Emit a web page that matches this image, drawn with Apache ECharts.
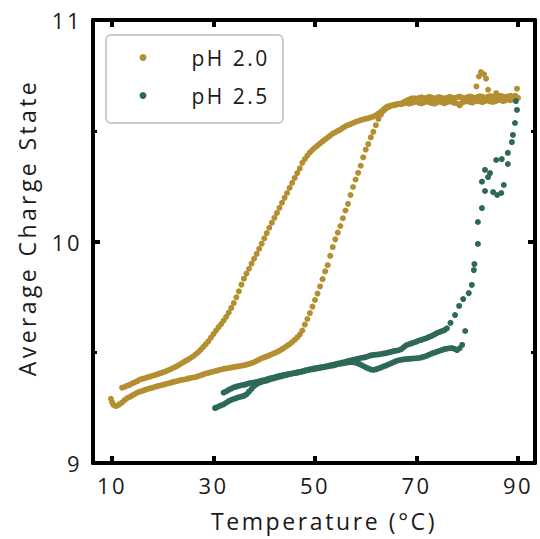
<!DOCTYPE html>
<html>
<head>
<meta charset="utf-8">
<script src="https://cdn.jsdelivr.net/npm/echarts@6/dist/echarts.min.js"></script>
<style>
  html, body { margin: 0; padding: 0; background: #fff; }
  #chart { width: 540px; height: 539px; }
  #chart text { letter-spacing: 2.5px; }
</style>
</head>
<body>
<div id="chart"></div>
<script>
// pH 2.0, lower branch (transition near 55 C)
var ph20Heat = [
  [9.8,9.290],[10.0,9.275],[10.3,9.262],[10.8,9.257],[11.3,9.262],[11.5,9.266],[12.0,9.274],[12.5,9.284],
  [13.0,9.293],[13.5,9.298],[14.0,9.305],[14.5,9.311],[15.0,9.318],[15.5,9.322],[16.0,9.326],[16.5,9.330],
  [17.0,9.334],[17.5,9.337],[18.0,9.340],[18.5,9.344],[19.0,9.347],[19.5,9.350],[20.0,9.353],[20.5,9.356],
  [21.0,9.359],[21.5,9.362],[22.0,9.365],[22.5,9.368],[23.0,9.371],[23.5,9.374],[24.0,9.376],[24.5,9.378],
  [25.0,9.381],[25.5,9.384],[26.0,9.386],[26.5,9.388],[27.0,9.392],[27.5,9.396],[28.0,9.400],[28.5,9.404],
  [29.0,9.407],[29.5,9.410],[30.0,9.413],[30.5,9.416],[31.0,9.419],[31.5,9.422],[32.0,9.425],[32.5,9.427],
  [33.0,9.429],[33.5,9.431],[34.0,9.433],[34.5,9.435],[35.0,9.437],[35.5,9.439],[36.0,9.441],[36.5,9.444],
  [37.0,9.447],[37.5,9.451],[38.0,9.455],[38.5,9.461],[39.0,9.467],[39.5,9.473],[40.0,9.477],[40.5,9.481],
  [41.0,9.486],[41.5,9.491],[42.0,9.496],[42.5,9.501],[43.0,9.507],[43.5,9.514],[44.0,9.521],[44.5,9.529],
  [45.0,9.537],[45.5,9.546],[46.0,9.556],[46.5,9.567],[47.0,9.580],[47.5,9.598],[48.0,9.625],[48.5,9.650],
  [49.0,9.677],[49.5,9.706],[50.0,9.736],[50.5,9.765],[51.0,9.797],[51.5,9.830],[52.0,9.865],[52.5,9.893],
  [53.0,9.935],[53.5,9.975],[54.0,10.010],[54.5,10.040],[55.0,10.070],[55.5,10.105],[56.0,10.140],[56.5,10.170],
  [57.0,10.210],[57.5,10.246],[58.0,10.280],[58.5,10.310],[59.0,10.342],[59.5,10.380],[60.0,10.415],[60.5,10.440],
  [61.0,10.470],[61.5,10.495],[62.0,10.525],[62.5,10.553],[63.0,10.573],[63.5,10.590],[64.0,10.600],[64.5,10.607],
  [65.0,10.613],[65.5,10.617],[66.0,10.619],[66.5,10.622],[67.0,10.620],[67.5,10.624],[68.0,10.627],[68.5,10.622],
  [69.0,10.625],[69.5,10.629],[70.0,10.631],[70.5,10.626],[71.0,10.623],[71.5,10.628],[72.0,10.632],[72.5,10.629],
  [73.0,10.625],[73.5,10.622],[74.0,10.627],[74.5,10.631],[75.0,10.628],[75.5,10.624],[76.0,10.629],[76.5,10.633],
  [77.0,10.630],[77.5,10.626],[78.0,10.623],[78.5,10.614],[79.0,10.627],[79.5,10.631],[80.0,10.634],[80.5,10.630],
  [81.0,10.627],[81.5,10.632],[82.0,10.636],[82.5,10.632],[83.0,10.629],[83.5,10.634],[84.0,10.637],[84.5,10.633],
  [85.0,10.630],[85.5,10.633],[86.0,10.637],[86.5,10.639],[87.0,10.634],[87.5,10.637],[88.0,10.641],[88.5,10.638],
  [89.0,10.641],[89.5,10.645],[90.0,10.648]
];
// pH 2.0, upper branch (gradual change)
var ph20Cool = [
  [12.0,9.340],[12.5,9.344],[13.0,9.349],[13.5,9.353],[14.0,9.360],[14.5,9.364],[15.0,9.370],[15.5,9.377],
  [16.0,9.380],[16.5,9.383],[17.0,9.387],[17.5,9.390],[18.0,9.394],[18.5,9.397],[19.0,9.401],[19.5,9.405],
  [20.0,9.409],[20.5,9.413],[21.0,9.418],[21.5,9.423],[22.0,9.429],[22.5,9.434],[23.0,9.440],[23.5,9.447],
  [24.0,9.454],[24.5,9.461],[25.0,9.467],[25.5,9.474],[26.0,9.482],[26.5,9.491],[27.0,9.501],[27.5,9.512],
  [28.0,9.524],[28.5,9.537],[29.0,9.550],[29.5,9.566],[30.0,9.582],[30.5,9.598],[31.0,9.613],[31.5,9.627],
  [32.0,9.643],[32.5,9.660],[33.0,9.679],[33.5,9.700],[34.0,9.722],[34.5,9.748],[35.0,9.775],[35.5,9.805],
  [36.0,9.832],[36.5,9.855],[37.0,9.877],[37.5,9.900],[38.0,9.922],[38.5,9.944],[39.0,9.967],[39.5,9.990],
  [40.0,10.014],[40.5,10.038],[41.0,10.062],[41.5,10.085],[42.0,10.107],[42.5,10.129],[43.0,10.152],[43.5,10.175],
  [44.0,10.197],[44.5,10.219],[45.0,10.242],[45.5,10.265],[46.0,10.287],[46.5,10.309],[47.0,10.330],[47.5,10.355],
  [48.0,10.372],[48.5,10.388],[49.0,10.402],[49.5,10.414],[50.0,10.424],[50.5,10.433],[51.0,10.443],[51.5,10.452],
  [52.0,10.461],[52.5,10.469],[53.0,10.478],[53.5,10.487],[54.0,10.493],[54.5,10.499],[55.0,10.505],[55.5,10.513],
  [56.0,10.520],[56.5,10.525],[57.0,10.530],[57.5,10.535],[58.0,10.540],[58.5,10.544],[59.0,10.548],[59.5,10.551],
  [60.0,10.554],[60.5,10.557],[61.0,10.560],[61.5,10.564],[62.0,10.570],[62.5,10.577],[63.0,10.586],[63.5,10.597],
  [64.0,10.606],[64.5,10.611],[65.0,10.614],[65.5,10.615],[66.0,10.618],[66.5,10.621],[67.0,10.624],[67.5,10.629],
  [68.0,10.635],[68.5,10.641],[69.0,10.645],[69.5,10.647],[70.0,10.644],[70.5,10.648],[71.0,10.651],[71.5,10.647],
  [72.0,10.649],[72.5,10.653],[73.0,10.650],[73.5,10.646],[74.0,10.649],[74.5,10.652],[75.0,10.648],[75.5,10.645],
  [76.0,10.649],[76.5,10.653],[77.0,10.650],[77.5,10.647],[78.0,10.651],[78.5,10.654],[79.0,10.650],[79.5,10.647],
  [80.0,10.651],[80.5,10.655],[81.0,10.652],[81.5,10.648],[82.0,10.652],[82.5,10.656],[83.0,10.653],[83.5,10.649],
  [84.0,10.653],[84.5,10.657],[85.0,10.654],[85.5,10.650],[86.0,10.654],[86.5,10.658],[87.0,10.655],[87.5,10.651],
  [88.0,10.655],[88.5,10.658],[89.0,10.655],[89.5,10.658]
];
// pH 2.0, scattered points above the plateau
var ph20Spike = [
  [81.8,10.700],[82.3,10.745],[82.7,10.765],[83.3,10.755],[83.7,10.735],[84.1,10.685],[85.7,10.670],[89.8,10.690]
];
// pH 2.5, trace A
var ph25RampA = [
  [32.0,9.318],[32.5,9.323],[33.0,9.330],[33.5,9.336],[34.0,9.341],[34.5,9.345],[35.0,9.348],[35.5,9.351],
  [36.0,9.353],[36.5,9.356],[37.0,9.360],[37.5,9.362],[38.0,9.363],[38.5,9.366],[39.0,9.369],[39.5,9.372],
  [40.0,9.374],[40.5,9.378],[41.0,9.381],[41.5,9.384],[42.0,9.387],[42.5,9.390],[43.0,9.393],[43.5,9.396],
  [44.0,9.398],[44.5,9.400],[45.0,9.402],[45.5,9.404],[46.0,9.406],[46.5,9.409],[47.0,9.411],[47.5,9.414],
  [48.0,9.417],[48.5,9.420],[49.0,9.423],[49.5,9.425],[50.0,9.428],[50.5,9.430],[51.0,9.432],[51.5,9.433],
  [52.0,9.435],[52.5,9.438],[53.0,9.441],[53.5,9.443],[54.0,9.446],[54.5,9.449],[55.0,9.451],[55.5,9.454],
  [56.0,9.457],[56.5,9.460],[57.0,9.463],[57.5,9.466],[58.0,9.468],[58.5,9.471],[59.0,9.474],[59.5,9.476],
  [60.0,9.478],[60.5,9.482],[61.0,9.486],[61.5,9.488],[62.0,9.489],[62.5,9.490],[63.0,9.492],[63.5,9.494],
  [64.0,9.496],[64.5,9.499],[65.0,9.502],[65.5,9.505],[66.0,9.507],[66.5,9.509],[67.0,9.514],[67.5,9.523],
  [68.0,9.532],[68.5,9.536],[69.0,9.540],[69.5,9.544],[70.0,9.548],[70.5,9.553],[71.0,9.556],[71.5,9.560],
  [72.0,9.564],[72.5,9.569],[73.0,9.574],[73.5,9.580],[74.0,9.586],[74.5,9.591],[75.0,9.595],[75.5,9.600],
  [76.0,9.608]
];
// pH 2.5, trace B
var ph25RampB = [
  [30.3,9.248],[30.5,9.250],[31.0,9.255],[31.5,9.260],[32.0,9.265],[32.5,9.272],[33.0,9.279],[33.5,9.285],
  [34.0,9.289],[34.5,9.293],[35.0,9.297],[35.5,9.300],[36.0,9.303],[36.5,9.310],[37.0,9.322],[37.5,9.335],
  [38.0,9.347],[38.5,9.356],[39.0,9.362],[39.5,9.366],[40.0,9.370],[40.5,9.372],[41.0,9.376],[41.5,9.380],
  [42.0,9.383],[42.5,9.386],[43.0,9.389],[43.5,9.392],[44.0,9.395],[44.5,9.398],[45.0,9.401],[45.5,9.404],
  [46.0,9.406],[46.5,9.408],[47.0,9.410],[47.5,9.413],[48.0,9.416],[48.5,9.419],[49.0,9.421],[49.5,9.423],
  [50.0,9.425],[50.5,9.427],[51.0,9.429],[51.5,9.432],[52.0,9.434],[52.5,9.436],[53.0,9.438],[53.5,9.440],
  [54.0,9.443],[54.5,9.446],[55.0,9.448],[55.5,9.450],[56.0,9.452],[56.5,9.454],[57.0,9.455],[57.5,9.455],
  [58.0,9.453],[58.5,9.449],[59.0,9.444],[59.5,9.438],[60.0,9.432],[60.5,9.427],[61.0,9.422],[61.5,9.420],
  [62.0,9.423],[62.5,9.427],[63.0,9.431],[63.5,9.436],[64.0,9.440],[64.5,9.445],[65.0,9.450],[65.5,9.455],
  [66.0,9.460],[66.5,9.464],[67.0,9.466],[67.5,9.468],[68.0,9.469],[68.5,9.470],[69.0,9.471],[69.5,9.472],
  [70.0,9.473],[70.5,9.474],[71.0,9.477],[71.5,9.480],[72.0,9.484],[72.5,9.489],[73.0,9.494],[73.5,9.498],
  [74.0,9.502],[74.5,9.506],[75.0,9.510],[75.5,9.514],[76.0,9.516],[76.5,9.518],[77.0,9.519],[77.5,9.515],
  [78.0,9.510],[78.5,9.518],[79.0,9.533]
];
// pH 2.5, sharp rise above 76 C
var ph25Jump = [
  [76.7,9.633],[77.6,9.668],[78.4,9.709],[79.2,9.740],[79.6,9.596],[80.3,9.767],[80.9,9.804],[81.3,9.871],
  [81.4,9.898],[82.1,9.989],[82.1,10.088],[82.9,10.151],[83.5,10.228],[82.9,10.270],[83.5,10.323],[84.1,10.291],
  [84.5,10.309],[85.1,10.223],[85.9,10.210],[86.7,10.219],[87.2,10.255],[85.7,10.368],[86.8,10.372],[88.0,10.350],
  [88.0,10.400],[88.8,10.449],[89.0,10.481],[89.4,10.535],[89.8,10.594],[89.6,10.634]
];

var xTicks = [10, 30, 50, 70, 90];
var seriesNames = ['pH 2.0', 'pH 2.5'];
var colors = ['#B48F31', '#2E6858'];

var font = 'Open Sans';
var chart = echarts.init(document.getElementById('chart'), null, { renderer: 'svg' });

function xAx(pos, showLabel) {
  return {
    type: 'value', position: pos, min: 6.26, max: 93.35,
    axisLine: { show: true, onZero: false, lineStyle: { color: '#000', width: 4 } },
    axisTick: { show: true, inside: true, length: 7, customValues: xTicks, lineStyle: { color: '#000', width: 4 } },
    axisLabel: { show: showLabel, customValues: xTicks, margin: 11, fontSize: 22, fontFamily: font, color: '#1a1a1a' },
    splitLine: { show: false },
    name: showLabel ? 'Temperature (°C)' : '',
    nameLocation: 'middle', nameGap: 46,
    nameTextStyle: { fontSize: 23, fontFamily: font, color: '#1a1a1a', padding: [0, 0, 0, 20] }
  };
}
function yAx(pos, showLabel) {
  return {
    type: 'value', position: pos, min: 9, max: 11, interval: 1,
    axisLine: { show: true, onZero: false, lineStyle: { color: '#000', width: 4 } },
    axisTick: { show: true, inside: true, length: 7, lineStyle: { color: '#000', width: 4 } },
    minorTick: { show: true, splitNumber: 2, length: 4, lineStyle: { color: '#000', width: 3 } },
    axisLabel: { show: showLabel, margin: 11, fontSize: 22, fontFamily: font, color: '#1a1a1a' },
    splitLine: { show: false },
    name: showLabel ? 'Average Charge State' : '',
    nameLocation: 'middle', nameGap: 55,
    nameTextStyle: { fontSize: 23, fontFamily: font, color: '#1a1a1a', padding: [0, 0, 0, 28] }
  };
}

var option = {
  animation: false,
  backgroundColor: '#fff',
  grid: { left: 93, right: 5, top: 20, bottom: 76 },
  xAxis: [xAx('bottom', true), xAx('top', false)],
  yAxis: [yAx('left', true), yAx('right', false)],
  graphic: [{
    type: 'rect', left: 105, top: 34, z: 5,
    shape: { width: 177, height: 88, r: 5 },
    style: { fill: '#fff', stroke: '#cccccc', lineWidth: 2 }
  }],
  legend: {
    orient: 'vertical', left: 134.5, top: 42, z: 10,
    itemWidth: 7, itemHeight: 7, itemGap: 17, icon: 'circle',
    textStyle: { fontSize: 21, fontFamily: font, color: '#1a1a1a', padding: [0, 0, 0, 40] },
    data: seriesNames
  },
  series: [
    {
      name: seriesNames[0], type: 'scatter', symbolSize: 6,
      itemStyle: { color: colors[0], opacity: 1 },
      data: ph20Heat.concat(ph20Cool, ph20Spike)
    },
    {
      name: seriesNames[1], type: 'scatter', symbolSize: 6,
      itemStyle: { color: colors[1], opacity: 1 },
      data: ph25RampA.concat(ph25RampB, ph25Jump)
    }
  ]
};
chart.setOption(option);

// wider tracking on the long axis names, as in the original figure
var spacing = { 'Average Charge State': '3.4px', 'Temperature (°C)': '2.6px' };
document.querySelectorAll('#chart text').forEach(function (t) {
  var s = spacing[t.textContent];
  if (s) t.style.letterSpacing = s;
});
</script>
</body>
</html>
